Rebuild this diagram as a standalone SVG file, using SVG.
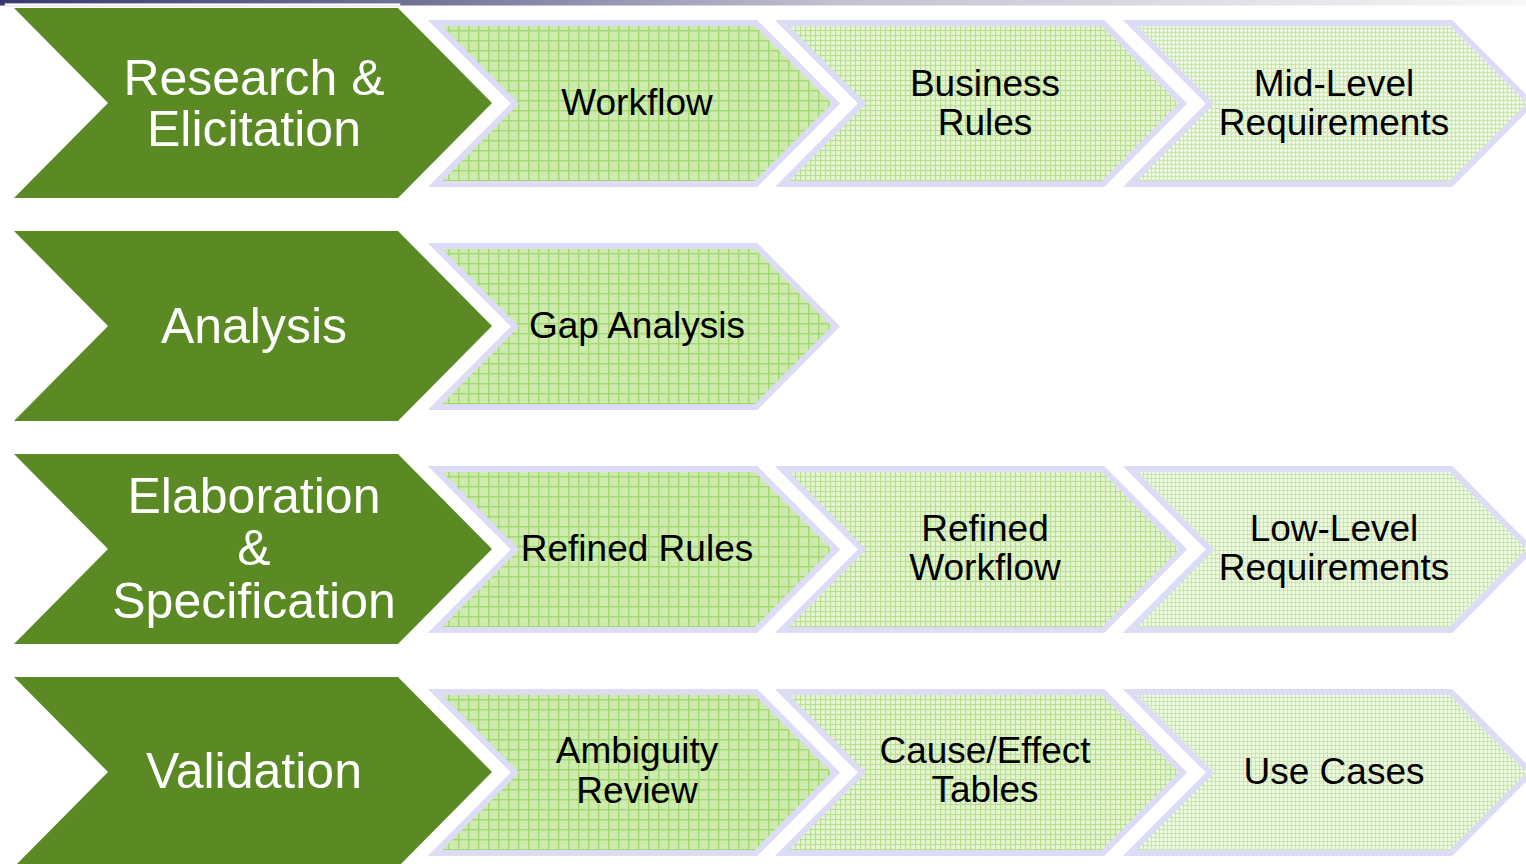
<svg xmlns="http://www.w3.org/2000/svg" width="1526" height="864" viewBox="0 0 1526 864">
  <defs>
    <linearGradient id="topbar" x1="0" y1="0" x2="1" y2="0">
      <stop offset="0" stop-color="#383870"/>
      <stop offset="0.28" stop-color="#74749a"/>
      <stop offset="0.55" stop-color="#c2c2d0"/>
      <stop offset="1" stop-color="#f7f7f7"/>
    </linearGradient>
    <pattern id="p1" width="10" height="10" patternUnits="userSpaceOnUse">
      <rect width="10" height="10" fill="#cfeaae"/>
      <rect x="0" y="0" width="10" height="1.4" fill="#a2d872"/>
      <rect x="0" y="0" width="1.4" height="10" fill="#a2d872"/>
      <rect x="5" y="5" width="1" height="1" fill="#d9efbf"/>
    </pattern>
    <pattern id="p2" width="5" height="5" patternUnits="userSpaceOnUse">
      <rect width="5" height="5" fill="#e1f2cc"/>
      <rect x="0" y="0" width="5" height="1" fill="#b6e08f"/>
      <rect x="0" y="0" width="1" height="5" fill="#b6e08f"/>
      <rect x="3" y="3" width="1" height="1" fill="#f6fbef"/>
    </pattern>
    <pattern id="p3" width="4" height="4" patternUnits="userSpaceOnUse">
      <rect width="4" height="4" fill="#ecf7df"/>
      <rect x="0" y="0" width="4" height="1" fill="#c8e8a8"/>
      <rect x="0" y="0" width="1" height="4" fill="#c8e8a8"/>
      <rect x="2" y="2" width="1" height="1" fill="#fbfdf7"/>
    </pattern>
  </defs>
  <style>
    .g { fill: #5b8a25; }
    .lc { stroke: #dcdcf6; stroke-width: 6; stroke-linejoin: miter; }
    .c1 { fill: url(#p1); }
    .c2 { fill: url(#p2); }
    .c3 { fill: url(#p3); }
    .gt { font-family: "Liberation Sans", Arial, sans-serif; font-size: 50px; fill: #ffffff; text-anchor: middle; }
    .lt { font-family: "Liberation Sans", Arial, sans-serif; font-size: 37px; fill: #000000; text-anchor: middle; }
  </style>
  <rect width="1526" height="864" fill="#ffffff"/>
  <rect x="0" y="0" width="1526" height="5.5" fill="url(#topbar)"/>
  <rect x="5" y="3.5" width="395" height="2.5" fill="#ffffff" stroke="#c9c9d2" stroke-width="0.6"/>

  <!-- Row 1 -->
  <g id="research-elicitation" transform="translate(14,8)">
    <polygon class="g" points="0,0 384,0 478,95 384,190 0,190 94,95"/>
    <text class="gt" x="240" y="87">Research &amp;</text>
    <text class="gt" x="240" y="138">Elicitation</text>
  </g>
  <g id="workflow" transform="translate(428,20)">
    <polygon class="lc c1" points="7,3 328,3 408,83.5 328,164 7,164 87,83.5"/>
    <text class="lt" x="209" y="95">Workflow</text>
  </g>
  <g id="business-rules" transform="translate(775,20)">
    <polygon class="lc c2" points="7,3 328,3 408,83.5 328,164 7,164 87,83.5"/>
    <text class="lt" x="210" y="76">Business</text>
    <text class="lt" x="210" y="115">Rules</text>
  </g>
  <g id="mid-level-requirements" transform="translate(1123,20)">
    <polygon class="lc c3" points="7,3 328,3 408,83.5 328,164 7,164 87,83.5"/>
    <text class="lt" x="211" y="76">Mid-Level</text>
    <text class="lt" x="211" y="115">Requirements</text>
  </g>

  <!-- Row 2 -->
  <g id="analysis" transform="translate(14,231)">
    <polygon class="g" points="0,0 384,0 478,95 384,190 0,190 94,95"/>
    <text class="gt" x="240" y="112">Analysis</text>
  </g>
  <g id="gap-analysis" transform="translate(428,243)">
    <polygon class="lc c1" points="7,3 328,3 408,83.5 328,164 7,164 87,83.5"/>
    <text class="lt" x="209" y="95">Gap Analysis</text>
  </g>

  <!-- Row 3 -->
  <g id="elaboration-specification" transform="translate(14,454)">
    <polygon class="g" points="0,0 384,0 478,95 384,190 0,190 94,95"/>
    <text class="gt" x="240" y="59">Elaboration</text>
    <text class="gt" x="240" y="111">&amp;</text>
    <text class="gt" x="240" y="164">Specification</text>
  </g>
  <g id="refined-rules" transform="translate(428,466)">
    <polygon class="lc c1" points="7,3 328,3 408,83.5 328,164 7,164 87,83.5"/>
    <text class="lt" x="209" y="95">Refined Rules</text>
  </g>
  <g id="refined-workflow" transform="translate(775,466)">
    <polygon class="lc c2" points="7,3 328,3 408,83.5 328,164 7,164 87,83.5"/>
    <text class="lt" x="210" y="75">Refined</text>
    <text class="lt" x="210" y="114">Workflow</text>
  </g>
  <g id="low-level-requirements" transform="translate(1123,466)">
    <polygon class="lc c3" points="7,3 328,3 408,83.5 328,164 7,164 87,83.5"/>
    <text class="lt" x="211" y="75">Low-Level</text>
    <text class="lt" x="211" y="114">Requirements</text>
  </g>

  <!-- Row 4 -->
  <g id="validation" transform="translate(14,677)">
    <polygon class="g" points="0,0 384,0 478,95 384,190 0,190 94,95"/>
    <text class="gt" x="240" y="111">Validation</text>
  </g>
  <g id="ambiguity-review" transform="translate(428,689)">
    <polygon class="lc c1" points="7,3 328,3 408,83.5 328,164 7,164 87,83.5"/>
    <text class="lt" x="209" y="74">Ambiguity</text>
    <text class="lt" x="209" y="114">Review</text>
  </g>
  <g id="cause-effect-tables" transform="translate(775,689)">
    <polygon class="lc c2" points="7,3 328,3 408,83.5 328,164 7,164 87,83.5"/>
    <text class="lt" x="210" y="74">Cause/Effect</text>
    <text class="lt" x="210" y="113">Tables</text>
  </g>
  <g id="use-cases" transform="translate(1123,689)">
    <polygon class="lc c3" points="7,3 328,3 408,83.5 328,164 7,164 87,83.5"/>
    <text class="lt" x="211" y="95">Use Cases</text>
  </g>

  <g id="connectors"/>
</svg>
